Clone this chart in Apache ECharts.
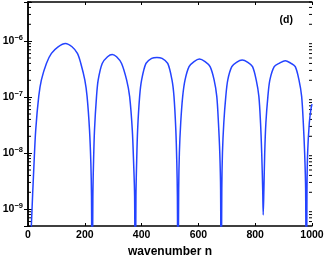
<!DOCTYPE html>
<html><head><meta charset="utf-8">
<script src="https://cdn.jsdelivr.net/npm/echarts@6/dist/echarts.min.js"></script>
<style>html,body{margin:0;padding:0;background:#fff}#c{width:327px;height:256px}</style>
</head><body><div id="c"></div>
<script>
// wavenumber n
const waveN = [8, 11.9, 21.3, 27.2, 37.8, 47.2, 64.8, 82.5, 106, 132, 155, 174, 186, 200, 208, 216.6, 221.3, 223.6, 226,
  228.4, 230.7, 234.2, 241.3, 247.2, 261.3, 280.1, 296.6, 311.9, 329.5, 347.2, 357.8, 367.2, 371.9, 375.4, 377.8,
  380.1, 382.5, 386, 393.1, 400.1, 415.4, 435.4, 454, 472, 492, 507, 514, 520.5, 524, 526, 528,
  530.6, 533, 537.7, 544.7, 553, 567.1, 584.7, 603.5, 623.5, 641.2, 655.3, 664.7, 670.6, 675.3, 678.2, 680,
  682.4, 684.7, 689.4, 696.5, 703.5, 717.6, 734.1, 754.1, 774.1, 790.6, 803.5, 812.9, 818.8, 822.9, 826.4, 828.2,
  830.6, 833.5, 837.6, 844.7, 851.7, 867, 885.8, 905.8, 924.7, 941.1, 954.1, 963.5, 969.4, 974.1, 977.6, 980,
  982.3, 984.6, 990.5, 996, 1000];
// spectrum amplitude
const amplitude = [1e-10, 5.2e-10, 6.7e-9, 2.6e-8, 1.03e-7, 2.03e-7, 4.0e-7, 6.04e-7, 7.93e-7, 9.1e-7, 7.93e-7, 6.04e-7, 4.0e-7, 2.03e-7, 1.03e-7, 2.6e-8, 6.7e-9, 1.7e-9, 1e-11,
  1.7e-9, 6.7e-9, 2.6e-8, 1.03e-7, 2.03e-7, 4.0e-7, 5.27e-7, 5.79e-7, 5.27e-7, 4.0e-7, 2.03e-7, 1.03e-7, 2.6e-8, 6.7e-9, 1.7e-9, 1e-11,
  1.7e-9, 6.7e-9, 2.6e-8, 1.03e-7, 2.03e-7, 4.0e-7, 4.92e-7, 5.13e-7, 4.92e-7, 4.0e-7, 2.03e-7, 1.03e-7, 2.6e-8, 6.7e-9, 1.7e-9, 1e-11,
  2.25e-9, 1.01e-8, 3.45e-8, 1.03e-7, 2.03e-7, 3.5e-7, 4.3e-7, 4.79e-7, 4.3e-7, 3.5e-7, 2.03e-7, 1.03e-7, 3.45e-8, 1.01e-8, 2.25e-9, 1e-11,
  2.25e-9, 1.01e-8, 3.45e-8, 1.03e-7, 2.03e-7, 3.5e-7, 4.18e-7, 4.6e-7, 4.18e-7, 3.5e-7, 2.03e-7, 1.03e-7, 3.45e-8, 1.01e-8, 2.25e-9, 7.9e-10,
  2.25e-9, 1.01e-8, 3.45e-8, 1.03e-7, 2.03e-7, 3.5e-7, 4.06e-7, 4.48e-7, 4.06e-7, 3.5e-7, 2.03e-7, 1.03e-7, 3.45e-8, 1.01e-8, 2.25e-9, 1e-11,
  2.25e-9, 1.01e-8, 3.45e-8, 6e-8, 7.5e-8];
const xTicks = [0, 200, 400, 600, 800, 1000];
const yDecades = [-10, -9, -8, -7, -6];
const minorMantissas = [2, 3, 4, 5, 6, 7, 8, 9];
const xName = 'wavenumber n';
const panelLabel = '(d)';

const Y_MIN = 5e-10, Y_MAX = 5e-6;
const minorTicks = [];
yDecades.forEach(e => minorMantissas.forEach(m => {
  const v = m * Math.pow(10, e);
  if (v > Y_MIN && v < Y_MAX) minorTicks.push([0, v]);
}));

const FONT = 'Liberation Sans';
function yFmt(v) {
  const l = Math.log10(v);
  const r = Math.round(l);
  if (Math.abs(l - r) > 1e-6) return '';
  return '{b|10}{s|' + (r < 0 ? '\u2212' + (-r) : r) + '}';
}
const chart = echarts.init(document.getElementById('c'), null, {renderer: 'canvas'});
const axisLine = {show: true, lineStyle: {color: '#000', width: 1.5}};
chart.setOption({
  animation: false,
  title: {text: panelLabel, right: 29, top: 10, textStyle: {fontFamily: FONT, fontSize: 10.5, fontWeight: 'bold', color: '#000'}},
  grid: {left: 28, right: 15, top: 2, bottom: 30, containLabel: false, outerBoundsMode: 'none'},
  xAxis: [{
    type: 'value', min: 0, max: 1000, interval: 200, position: 'bottom',
    name: xName, nameLocation: 'middle', nameGap: 14,
    nameTextStyle: {fontFamily: FONT, fontSize: 12, fontWeight: 'bold', color: '#000'},
    axisLine, axisTick: {show: true, inside: true, length: 3, lineStyle: {color: '#000'}},
    axisLabel: {fontFamily: FONT, fontSize: 10.5, fontWeight: 'bold', color: '#000', margin: 4,
      formatter: v => xTicks.includes(v) ? String(v) : ''},
    splitLine: {show: false}
  }, {
    type: 'value', min: 0, max: 1000, interval: 200, position: 'top',
    axisLine, axisTick: {show: true, inside: true, length: 3, lineStyle: {color: '#000'}},
    axisLabel: {show: false}, splitLine: {show: false}
  }],
  yAxis: [{
    type: 'log', logBase: 10, min: Y_MIN, max: Y_MAX, position: 'left',
    axisLine, axisTick: {show: true, inside: true, length: 4, lineStyle: {color: '#000'}},
    axisLabel: {margin: 5, formatter: yFmt, rich: {
      b: {fontFamily: FONT, fontSize: 10.5, fontWeight: 'bold', color: '#000'},
      s: {fontFamily: FONT, fontSize: 7.5, fontWeight: 'bold', color: '#000', verticalAlign: 'bottom', padding: [0, 0, 7, 0]}
    }},
    splitLine: {show: false}
  }, {
    type: 'log', logBase: 10, min: Y_MIN, max: Y_MAX, position: 'right',
    axisLine, axisTick: {show: true, inside: true, length: 4, lineStyle: {color: '#000'}},
    axisLabel: {show: false}, splitLine: {show: false}
  }],
  series: [{
    type: 'line', xAxisIndex: 0, yAxisIndex: 0,
    data: waveN.map((n, i) => [n, amplitude[i]]),
    showSymbol: false, smooth: 0.3, clip: true,
    lineStyle: {color: '#2443ff', width: 1.5}
  }, {
    type: 'custom', xAxisIndex: 0, yAxisIndex: 0, silent: true, clip: false,
    data: minorTicks,
    renderItem: (params, api) => {
      const v = api.value(1);
      const pl = api.coord([0, v]);
      const pr = api.coord([1000, v]);
      return {type: 'group', children: [
        {type: 'line', shape: {x1: pl[0], y1: pl[1], x2: pl[0] + 3, y2: pl[1]}, style: {stroke: '#000', lineWidth: 1}},
        {type: 'line', shape: {x1: pr[0], y1: pr[1], x2: pr[0] - 3, y2: pr[1]}, style: {stroke: '#000', lineWidth: 1}}
      ]};
    }
  }]
});
</script></body></html>
